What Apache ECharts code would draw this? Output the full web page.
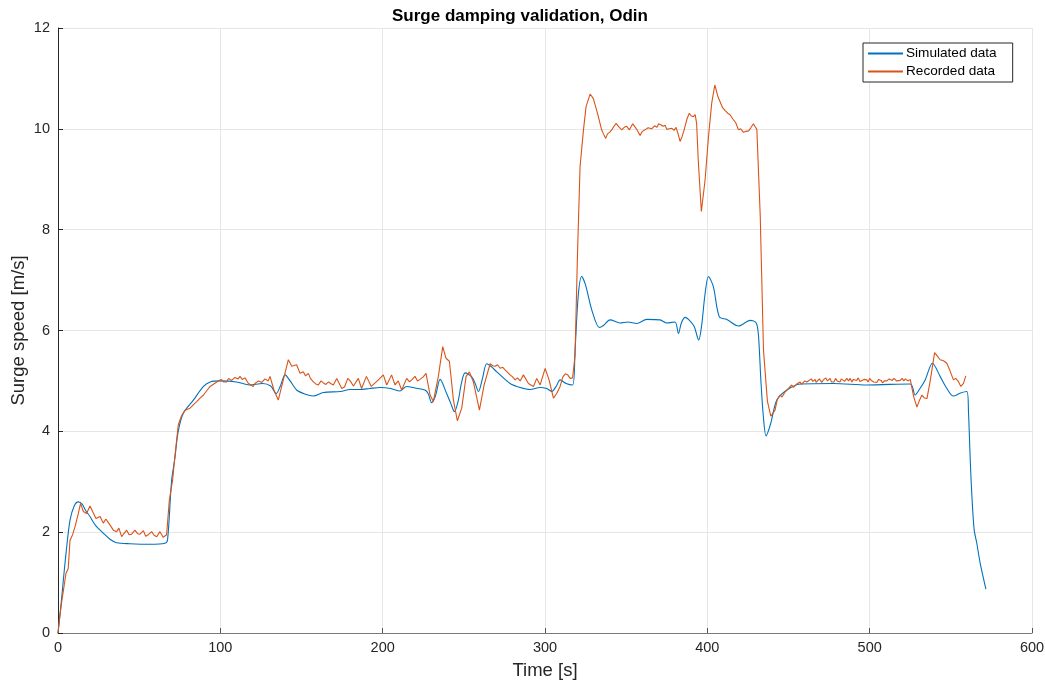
<!DOCTYPE html>
<html>
<head>
<meta charset="utf-8">
<script src="https://cdn.jsdelivr.net/npm/echarts@6/dist/echarts.min.js"></script>
<style>html,body{margin:0;padding:0;background:#fff;}#c{width:1045px;height:685px;}</style>
</head>
<body>
<div id="c"></div>
<script>
const simTime = [0,1.5,3.3,5,7.4,10,12.5,15,17,19.7,23,27.9,32,36.1,44.4,56.7,65.9,67.5,70,72,74,77.2,83.4,89.6,93.7,100,110,118,126,131,134.4,137,139.9,143,147,152,157.3,163.5,174,180,186,192,198.4,205,210.7,214.8,220,226,228,230.2,232.5,235.4,239.4,242,244.2,246.5,248.5,250.8,254.9,257,259,261.5,264.1,267,270.3,278.5,284.7,290.8,297,301,304.2,307,309.3,313,317,318.5,320.5,322.6,325,328.8,333.5,336,340.1,346.2,351,356.5,362.7,370.9,375,380.1,382.2,384,386.3,389,391.9,394.7,396.5,398.5,400.7,403.7,407.4,412,419.2,426.4,430.1,431.5,433,434.5,436.2,439,442.8,449,457.2,477.7,498.2,525,528,531,534.2,538.7,543.4,547,551.6,556,559.9,560.9,562,563,564.4,566,568.1,571.6];
const simSpeed = [0,0.45,1.05,1.6,2.24,2.52,2.6,2.55,2.43,2.31,2.14,1.98,1.86,1.79,1.77,1.76,1.78,1.85,3.03,3.47,3.99,4.36,4.62,4.89,4.98,5.0,4.98,4.92,4.95,4.9,4.75,4.9,5.12,5.0,4.82,4.74,4.7,4.77,4.79,4.83,4.83,4.85,4.87,4.85,4.8,4.89,4.86,4.82,4.75,4.57,4.7,5.03,4.75,4.55,4.39,4.6,4.95,5.16,5.08,4.95,4.79,5.05,5.34,5.28,5.18,4.95,4.87,4.83,4.87,4.85,4.79,4.9,5.02,4.95,4.92,5.6,6.7,7.07,6.9,6.41,6.06,6.1,6.21,6.15,6.17,6.14,6.22,6.21,6.15,6.17,5.94,6.15,6.26,6.2,6.08,5.81,6.1,6.7,7.07,6.87,6.27,6.22,6.09,6.2,6.15,5.9,5.0,4.3,3.91,4.15,4.62,4.82,4.94,4.95,4.92,4.94,4.72,4.85,5.02,5.35,5.09,4.88,4.7,4.76,4.79,4.36,3.4,2.7,2.04,1.78,1.38,0.87];

const recTime = [0,1,2.3,3,4.9,6.3,7.4,9,10.5,12.5,13.9,15.6,17.6,19.7,21.3,23.4,25.9,27.9,29.5,31,32.5,34.1,36.1,37.5,39.2,40.8,42.3,43.8,45.3,47.4,49,50.5,52.6,54,55.6,57.7,59.2,60.8,62.8,64.8,66.9,68.6,70.6,72,74.1,76,78.2,81.3,83.5,85.4,87.5,89.6,91.5,93.7,95.5,97.8,99,100.5,102,103.9,105,106,107,108,109,110,111,112.1,113.5,115.2,116,117.3,118.5,120.3,121.3,122.4,123.5,124.5,125.5,126.5,127.5,128.5,129.5,130.6,133,135.7,138.8,141.9,144,147,149.1,151.1,152.5,154.2,155.5,157.3,158.8,160.4,162,163.5,165,166.6,168,169.6,171.7,174.8,176.5,178.5,180,182,185,187,190,193,196,198,200.4,202.5,205.5,207.6,209.6,211.7,214.8,216.5,217.9,219.9,221.5,223,225,226.7,229.2,231.2,234.3,237,239,241.1,243.6,246,248.7,251.4,253.4,255.9,259.6,262.5,266.2,267.8,269.3,270.8,272.3,274,275.4,278.5,280,281.6,283,284.7,286.7,289.8,292.9,294.9,297,300.1,302.5,305.2,307.2,309.3,311,312.5,314,315.5,317,318.5,320,321.6,323.7,325.3,327.8,329.8,332.3,334.9,336,337.4,338.5,340.1,341.5,342.5,343.8,345.5,347.3,348.8,350.3,352,354,355.2,356.5,357.5,358.6,360,361.6,363.5,365.7,367.5,369,370,371.3,372.7,374,375,376.5,378.2,379.5,380.7,382,383.2,384.5,385.7,387.5,388.9,390,391.4,392.5,393.4,394.4,396.3,398.6,400.7,402.7,404.6,406.6,409.4,411,412.5,414,415.6,417.5,419.2,420.5,422.3,423.8,425.4,426.8,428.4,429.3,430.5,432.6,434.6,437,439.1,441.7,443,444.8,446,447.9,449,450,451,452,453,454,455.5,457.2,458,459,460,461.3,462.5,464,465,466.4,467,468,469,470.5,471.5,473,474,475.6,476.5,478,479,480,481.8,482.5,483.5,484.5,485.9,487,488,489,490,492,493,494,495,496.5,498.2,499,500,501,502.5,504.4,505.5,507,508,509,510.6,512,514,515,516.5,518.8,520,521,522,523.5,525,527.1,529.1,530.5,532.2,533.8,535.3,537.4,540,541.5,543.4,545.5,547.5,549.5,551.6,553,554.6,556.2,557.8,559.2];
const recSpeed = [0,0.3,0.62,0.65,1.18,1.28,1.84,1.95,2.11,2.37,2.57,2.41,2.37,2.52,2.41,2.27,2.31,2.18,2.26,2.19,2.12,2.04,2.01,2.08,1.91,1.98,2.04,1.95,1.96,2.04,1.97,1.96,2.03,1.92,1.95,2.01,1.94,1.91,2.01,1.9,1.95,2.64,3.03,3.5,4.13,4.3,4.42,4.46,4.53,4.59,4.66,4.72,4.8,4.89,4.93,4.98,5.0,5.03,4.98,4.98,5.05,5.06,5.01,5.02,5.07,5.07,5.04,5.09,5.03,5.06,5.02,4.95,4.98,4.89,4.95,4.95,5.0,5.02,4.97,4.98,5.04,5.04,5.0,5.09,4.82,4.62,5.02,5.42,5.29,5.32,5.15,5.18,5.1,5.15,5.05,4.98,4.94,4.92,5.0,4.96,4.93,4.98,4.95,4.92,5.05,4.85,4.88,5.05,5.0,4.9,5.05,4.85,5.09,4.89,4.98,5.04,5.12,4.92,5.12,4.92,5.0,4.82,5.05,4.98,5.02,5.09,5.0,5.03,5.08,5.15,4.72,4.59,5.09,5.68,5.45,5.39,4.62,4.21,4.46,5.09,5.18,4.98,4.42,4.92,5.34,5.3,5.29,5.32,5.25,5.27,5.22,5.12,5.08,5.02,5.06,5.0,5.12,4.95,4.89,5.05,4.92,5.25,5.02,4.66,4.75,4.89,5.08,5.14,5.12,5.05,5.06,5.5,7.5,9.25,9.98,10.44,10.69,10.6,10.31,9.98,9.9,9.81,9.9,9.94,10.0,10.05,10.11,10.04,9.98,10.03,10.05,9.98,10.1,10.05,9.99,9.93,9.87,9.95,9.98,10.02,10.0,10.06,10.03,10.1,10.08,10.05,10.07,9.99,10.0,10.01,9.97,10.03,9.9,9.75,9.85,9.98,10.2,10.31,10.26,10.24,10.28,10.11,9.38,8.36,8.98,9.84,10.51,10.87,10.63,10.42,10.36,10.31,10.28,10.2,10.12,9.98,10.0,9.93,9.95,9.96,10.02,10.1,10.05,9.99,8.26,5.61,4.6,4.3,4.42,4.62,4.72,4.68,4.78,4.8,4.85,4.82,4.92,4.87,4.88,4.95,4.98,4.93,4.92,5.0,4.98,4.95,5.04,4.99,5.03,4.97,4.98,5.04,4.97,5.02,5.06,5.0,5.05,4.98,4.98,5.05,5.0,4.98,5.04,5.06,4.99,5.05,5.0,5.05,4.98,5.03,5.01,5.06,4.99,4.98,5.03,5.02,4.98,5.05,5.01,4.98,4.97,5.03,5.01,4.96,5.0,5.0,5.04,5.01,5.05,5.0,5.01,5.05,5.0,5.04,5.0,5.03,4.69,4.48,4.6,4.72,4.66,4.65,5.02,5.56,5.5,5.42,5.4,5.35,5.2,5.02,5.05,4.99,4.89,4.95,5.1];

const xTicks = [0,100,200,300,400,500,600];
const yTicks = [0,2,4,6,8,10,12];

const sim = simTime.map((t,i)=>[t, simSpeed[i]]);
const rec = recTime.map((t,i)=>[t, recSpeed[i]]);

const chart = echarts.init(document.getElementById('c'), null, {renderer:'canvas'});
const font = 'Liberation Sans, Arial, Helvetica, sans-serif';
chart.setOption({
  animation: false,
  backgroundColor: '#ffffff',
  title: {
    text: 'Surge damping validation, Odin',
    left: 515, top: 3, textAlign: 'center',
    textStyle: {fontFamily: font, fontSize: 17, fontWeight: 'bold', color: '#000'}
  },
  legend: {
    orient: 'vertical', left: 863, top: 43,
    backgroundColor: '#fff',
    borderColor: '#262626', borderWidth: 1,
    padding: [3, 16, 3, 5],
    itemGap: 3, itemWidth: 35, itemHeight: 2,
    icon: 'rect',
    itemStyle: {borderWidth: 0},
    textStyle: {fontFamily: font, fontSize: 13.6, color: '#000', padding: [0,0,0,-2], lineHeight: 15},
    data: [
      {name: 'Simulated data', itemStyle: {color: '#0072BD'}},
      {name: 'Recorded data', itemStyle: {color: '#D95319'}}
    ]
  },
  grid: {left: 58, right: 13, top: 28, bottom: 52, containLabel: false, outerBoundsMode: 'none'},
  xAxis: {
    type: 'value', min: 0, max: 600, interval: 100,
    name: 'Time [s]', nameLocation: 'middle', nameGap: 28, nameMoveOverlap: false,
    nameTextStyle: {fontFamily: font, fontSize: 18.5, color: '#262626'},
    axisLine: {show: true, lineStyle: {color: '#7a7a7a', width: 1}},
    axisTick: {show: true, inside: true, length: 5, lineStyle: {color: '#555'}},
    axisLabel: {fontFamily: font, fontSize: 14.5, color: '#262626', margin: 7,
      formatter: v => xTicks.includes(v) ? String(v) : ''},
    splitLine: {show: true, lineStyle: {color: '#e6e6e6', width: 1}}
  },
  yAxis: {
    type: 'value', min: 0, max: 12, interval: 2,
    name: 'Surge speed [m/s]', nameLocation: 'middle', nameGap: 30, nameRotate: 90, nameMoveOverlap: false,
    nameTextStyle: {fontFamily: font, fontSize: 18.5, color: '#262626'},
    axisLine: {show: true, lineStyle: {color: '#262626', width: 1}},
    axisTick: {show: true, inside: true, length: 5, lineStyle: {color: '#262626'}},
    axisLabel: {fontFamily: font, fontSize: 14.5, color: '#262626', margin: 8,
      formatter: v => yTicks.includes(v) ? String(v) : ''},
    splitLine: {show: true, lineStyle: {color: '#e6e6e6', width: 1}}
  },
  series: [
    {name: 'Simulated data', type: 'line', data: sim, showSymbol: false, smooth: 0.3,
     lineStyle: {color: '#0072BD', width: 1.1}, itemStyle: {color: '#0072BD'}, z: 2},
    {name: 'Recorded data', type: 'line', data: rec, showSymbol: false, smooth: false,
     lineStyle: {color: '#D95319', width: 1.1}, itemStyle: {color: '#D95319'}, z: 3}
  ]
});
</script>
</body>
</html>
